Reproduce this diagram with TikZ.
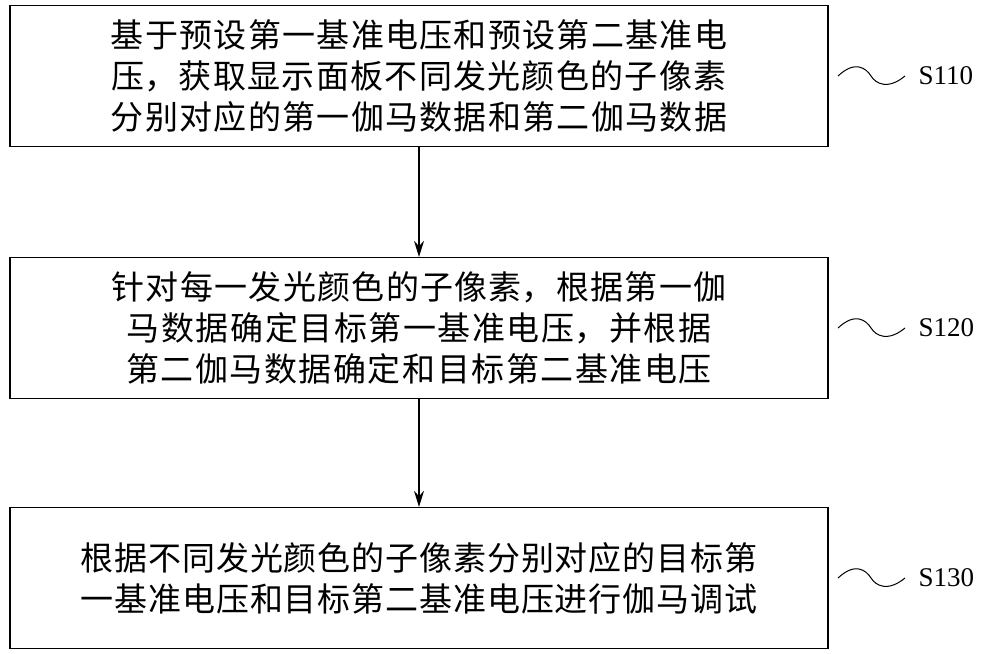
\documentclass[tikz,border=0pt]{standalone}
\usepackage{fontspec}
\usetikzlibrary{arrows.meta}
\setmainfont{Liberation Serif}
\newfontfamily\cjk{Noto Sans CJK SC}
\XeTeXlinebreaklocale "zh"
\XeTeXlinebreakskip=0pt plus 1pt
\begin{document}
\begin{tikzpicture}[x=1pt,y=-1pt]
\tikzset{stepbox/.style={draw,line width=1.2pt,minimum width=818pt,minimum height=141pt,text width=790pt,align=center,font=\cjk\fontsize{33}{41}\selectfont,inner sep=0pt},
  flow/.style={-{Stealth[length=16pt,width=10pt]},line width=1.2pt},
  wave/.style={line width=1pt},
  tag/.style={font=\fontsize{27}{30}\selectfont,anchor=west}}
\useasboundingbox (0,0) rectangle (1000,653);
\node[stepbox] (s110) at (419,76) {基于预设第一基准电压和预设第二基准电压，获取显示面板不同发光颜色的子像素分别对应的第一伽马数据和第二伽马数据};
\node[stepbox] (s120) at (419,328) {针对每一发光颜色的子像素，根据第一伽马数据确定目标第一基准电压，并根据第二伽马数据确定和目标第二基准电压};
\node[stepbox] (s130) at (419,578) {根据不同发光颜色的子像素分别对应的目标第一基准电压和目标第二基准电压进行伽马调试};
\draw[flow] (s110) -- (s120);
\draw[flow] (s120) -- (s130);
% step labels
\foreach \s/\y in {s110/76,s120/328,s130/578}{
  \draw[wave] (838,\y) .. controls (855,\y-16) and (866,\y-8) .. (871,\y)
    .. controls (876,\y+8) and (888,\y+14) .. (905,\y);
}
\node[tag] (l110) at (915,76) {S110};
\node[tag] (l120) at (915,328) {S120};
\node[tag] (l130) at (915,578) {S130};
\end{tikzpicture}
\end{document}
